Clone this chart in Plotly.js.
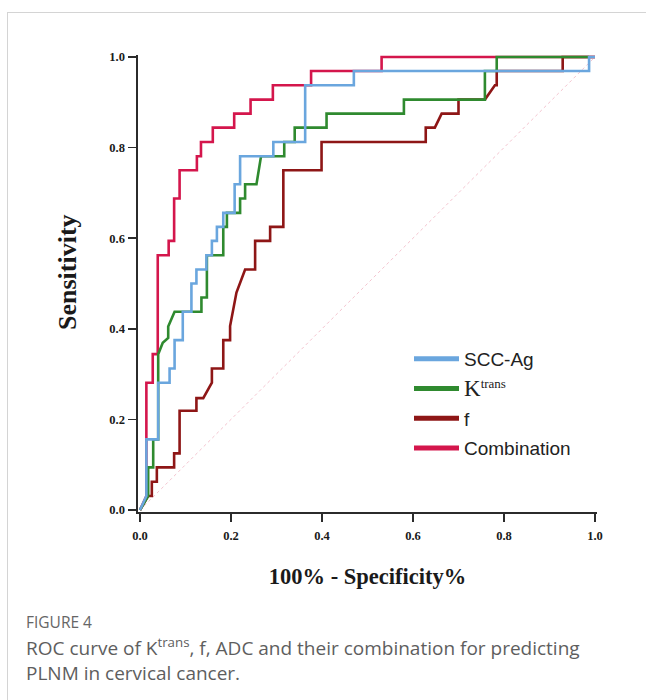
<!DOCTYPE html>
<html>
<head>
<meta charset="utf-8">
<script src="https://cdn.plot.ly/plotly-3.0.1.min.js"></script>
<style>
  html, body { margin: 0; padding: 0; background: #ffffff; }
  #wrap { position: relative; width: 646px; height: 700px; overflow: hidden; }
  #chart { position: absolute; left: 0; top: 0; width: 646px; height: 700px; }
  #frame { position: absolute; left: 7px; top: 12px; width: 650px; height: 700px;
           border-top: 1px solid #d4d4d4; border-left: 1px solid #d4d4d4; pointer-events: none; }
</style>
</head>
<body>
<div id="wrap">
  <div id="chart"></div>
  <div id="frame"></div>
</div>
<script>
// ---- Data ----
const seriesNames = ["SCC-Ag", "K<sup>trans</sup>", "f", "Combination"];
const axisTicks = [0.0, 0.2, 0.4, 0.6, 0.8, 1.0];

const sccAgX = [0, 0.003, 0.014, 0.014, 0.040, 0.040, 0.065, 0.065, 0.076, 0.076, 0.094, 0.094, 0.113, 0.113, 0.124, 0.124, 0.146, 0.146, 0.158, 0.158, 0.169, 0.169, 0.183, 0.183, 0.208, 0.208, 0.220, 0.220, 0.293, 0.293, 0.363, 0.363, 0.470, 0.470, 0.987, 0.987, 1.0];
const sccAgY = [0, 0.007, 0.031, 0.156, 0.156, 0.281, 0.281, 0.3125, 0.3125, 0.375, 0.375, 0.4375, 0.4375, 0.5, 0.5, 0.531, 0.531, 0.5625, 0.5625, 0.594, 0.594, 0.625, 0.625, 0.656, 0.656, 0.719, 0.719, 0.781, 0.781, 0.8125, 0.8125, 0.9375, 0.9375, 0.969, 0.969, 1.0, 1.0];

const ktransX = [0, 0.018, 0.018, 0.029, 0.029, 0.040, 0.040, 0.050, 0.062, 0.062, 0.076, 0.135, 0.135, 0.147, 0.147, 0.183, 0.183, 0.191, 0.191, 0.220, 0.220, 0.231, 0.231, 0.256, 0.266, 0.317, 0.317, 0.340, 0.340, 0.410, 0.410, 0.580, 0.580, 0.758, 0.758, 0.784, 0.784, 0.987];
const ktransY = [0, 0.031, 0.094, 0.094, 0.156, 0.156, 0.344, 0.369, 0.380, 0.405, 0.4375, 0.4375, 0.469, 0.469, 0.5625, 0.5625, 0.625, 0.625, 0.656, 0.656, 0.6875, 0.6875, 0.719, 0.719, 0.781, 0.781, 0.8125, 0.8125, 0.844, 0.844, 0.875, 0.875, 0.906, 0.906, 0.969, 0.969, 1.0, 1.0];

const fX = [0, 0.018, 0.026, 0.026, 0.037, 0.037, 0.075, 0.075, 0.087, 0.087, 0.124, 0.124, 0.139, 0.158, 0.158, 0.183, 0.183, 0.198, 0.198, 0.209, 0.212, 0.231, 0.253, 0.253, 0.286, 0.286, 0.315, 0.315, 0.399, 0.399, 0.628, 0.628, 0.648, 0.663, 0.700, 0.700, 0.758, 0.780, 0.784, 0.784, 0.929, 0.929, 1.0];
const fY = [0, 0.031, 0.031, 0.0625, 0.0625, 0.094, 0.094, 0.125, 0.125, 0.219, 0.219, 0.247, 0.247, 0.281, 0.3125, 0.3125, 0.375, 0.375, 0.406, 0.469, 0.48, 0.531, 0.531, 0.594, 0.594, 0.625, 0.625, 0.75, 0.75, 0.8125, 0.8125, 0.844, 0.844, 0.875, 0.875, 0.906, 0.906, 0.9375, 0.9375, 0.969, 0.969, 1.0, 1.0];

const combX = [0, 0.014, 0.014, 0.028, 0.028, 0.039, 0.039, 0.063, 0.063, 0.075, 0.075, 0.087, 0.087, 0.125, 0.125, 0.134, 0.134, 0.160, 0.160, 0.207, 0.207, 0.243, 0.243, 0.292, 0.292, 0.376, 0.376, 0.531, 0.531, 1.0];
const combY = [0, 0.031, 0.281, 0.281, 0.344, 0.344, 0.5625, 0.5625, 0.594, 0.594, 0.6875, 0.6875, 0.75, 0.75, 0.781, 0.781, 0.8125, 0.8125, 0.844, 0.844, 0.875, 0.875, 0.906, 0.906, 0.9375, 0.9375, 0.969, 0.969, 1.0, 1.0];

const refX = [0, 1];
const refY = [0, 1];

// ---- Styling ----
const colors = { scc: "#6aa6de", ktrans: "#2f8a2f", f: "#8e1616", comb: "#d4164c" };
const W = 646, H = 700;
const M = { l: 138, r: 49, t: 55, b: 188 };
const PW = W - M.l - M.r, PH = H - M.t - M.b;
const px2x = p => (p - M.l) / PW;
const px2y = p => (M.t + PH - p) / PH;
const SERIF = "Liberation Serif, Times New Roman, serif";
const serifBold = { family: SERIF, weight: "bold", color: "#1a1a1a" };

const lw = 2.6;
const traces = [
  { x: refX, y: refY, mode: "lines", line: { color: "#f4c4cf", width: 1, dash: "dot" }, showlegend: false, hoverinfo: "skip" },
  { x: combX, y: combY, mode: "lines", line: { color: colors.comb, width: lw }, showlegend: false, name: "Combination" },
  { x: fX, y: fY, mode: "lines", line: { color: colors.f, width: lw }, showlegend: false, name: "f" },
  { x: ktransX, y: ktransY, mode: "lines", line: { color: colors.ktrans, width: lw }, showlegend: false, name: "Ktrans" },
  { x: sccAgX, y: sccAgY, mode: "lines", line: { color: colors.scc, width: lw }, showlegend: false, name: "SCC-Ag" }
];
// legend-only entries (thicker samples, as in the reference)
const legendColors = [colors.scc, colors.ktrans, colors.f, colors.comb];
seriesNames.forEach((nm, i) => {
  const label = i === 1
    ? '<span style="font-family:' + SERIF + ';font-size:23px">K</span><sup><span style="font-family:' + SERIF + ';font-size:13px">trans</span></sup>'
    : nm;
  traces.push({ x: [null], y: [null], mode: "lines", name: label, legendgroup: "g" + i, legendrank: i + 1,
                line: { color: legendColors[i], width: 5 }, showlegend: true });
});

const axisCommon = {
  range: [-0.0044, 1.0044], tickvals: axisTicks, tickformat: ".1f",
  showline: true, linecolor: "#2b2b2b", linewidth: 1.6,
  ticks: "outside", ticklen: 8, tickwidth: 1.6, tickcolor: "#2b2b2b",
  showgrid: false, zeroline: false,
  tickfont: Object.assign({ size: 12.5 }, serifBold)
};

const layout = {
  width: W, height: H,
  margin: M,
  paper_bgcolor: "rgba(0,0,0,0)", plot_bgcolor: "rgba(0,0,0,0)",
  xaxis: Object.assign({}, axisCommon, {
    ticklabelstandoff: 3,
    title: { text: "100% - Specificity%", font: Object.assign({ size: 22.5 }, serifBold), standoff: 26 }
  }),
  yaxis: Object.assign({}, axisCommon, { ticklabelstandoff: 1 }),
  showlegend: true,
  legend: {
    x: px2x(409), y: px2y(340), xanchor: "left", yanchor: "top",
    bgcolor: "rgba(0,0,0,0)", borderwidth: 0,
    font: { family: "Liberation Sans, Arial, sans-serif", size: 19, color: "#222" },
    traceorder: "grouped", tracegroupgap: 2, itemwidth: 45
  },
  annotations: [
    { text: "Sensitivity", textangle: -90, xref: "paper", yref: "paper", x: px2x(67), y: px2y(272),
      xanchor: "center", yanchor: "middle", showarrow: false, font: Object.assign({ size: 26 }, serifBold) },
    { text: "FIGURE 4", xref: "paper", yref: "paper", x: px2x(24), y: px2y(622), xanchor: "left", yanchor: "middle",
      showarrow: false, font: { family: "Open Sans, sans-serif", size: 15.5, color: "#666" } },
    { text: "ROC curve of K<sup>trans</sup>, f, ADC and their combination for predicting", xref: "paper", yref: "paper",
      x: px2x(24), y: px2y(647), xanchor: "left", yanchor: "middle", showarrow: false,
      font: { family: "Open Sans, sans-serif", size: 19, color: "#5e5e5e" } },
    { text: "PLNM in cervical cancer.", xref: "paper", yref: "paper",
      x: px2x(24), y: px2y(673), xanchor: "left", yanchor: "middle", showarrow: false,
      font: { family: "Open Sans, sans-serif", size: 19, color: "#5e5e5e" } }
  ]
};

Plotly.newPlot("chart", traces, layout, { displayModeBar: false, staticPlot: true });
</script>
</body>
</html>
